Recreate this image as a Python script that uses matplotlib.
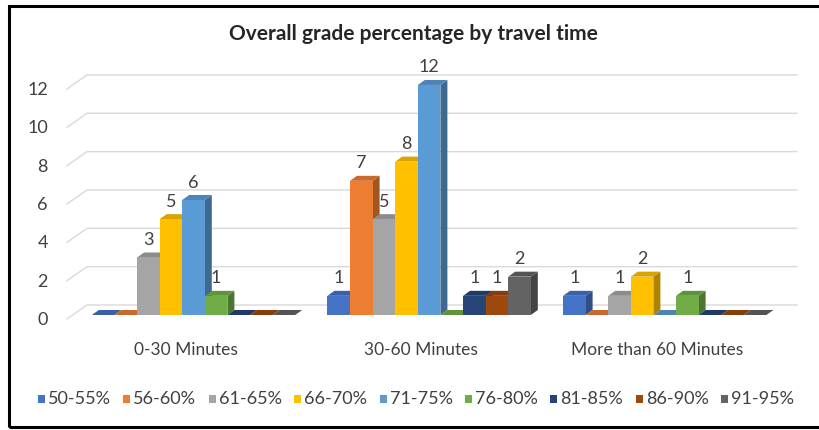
import matplotlib
matplotlib.use('Agg')
import matplotlib.pyplot as plt
from matplotlib.patches import Polygon, Rectangle
from matplotlib.colors import to_rgb
from matplotlib import font_manager
import numpy as np

# data
categories = ['0-30 Minutes', '30-60 Minutes', 'More than 60 Minutes']
grades = ['50-55%', '56-60%', '61-65%', '66-70%', '71-75%',
          '76-80%', '81-85%', '86-90%', '91-95%']
colors = ['#4472C4', '#ED7D31', '#A5A5A5', '#FFC000', '#5B9BD5',
          '#70AD47', '#264478', '#9E480E', '#636363']
counts_0_30 = [0, 0, 3, 5, 6, 1, 0, 0, 0]
counts_30_60 = [1, 7, 5, 8, 12, 0, 1, 1, 2]
counts_60_plus = [1, 0, 1, 2, 0, 1, 0, 0, 0]
y_ticks = [0, 2, 4, 6, 8, 10, 12]
title = 'Overall grade percentage by travel time'

names = {f.name for f in font_manager.fontManager.ttflist}
family = next(f for f in ['Lato', 'Open Sans', 'DejaVu Sans'] if f in names)
plt.rcParams['font.family'] = [family, 'DejaVu Sans']
txt = '#404040'
fs = 13

W, H = 819, 430
fig = plt.figure(figsize=(W / 100, H / 100), dpi=100)
ax = fig.add_axes([0, 0, 1, 1])

# pixel scale of the plot (px per category / per unit)
XS, YS = 235.6, 19.17
x0, y0 = 193.5, 315
ax.set_xlim(-x0 / XS, (W - x0) / XS)
ax.set_ylim((y0 - H) / YS, y0 / YS)
ax.axis('off')


def px(d):
    return d / XS


def py(d):
    return d / YS


# back wall gridlines + y labels
for v in y_ticks:
    ax.plot([px(67 - x0), px(87 - x0), px(797 - x0)],
            [v - py(4), v + py(10), v + py(10)], color='#D9D9D9', lw=1.0, zorder=1)
    ax.text(px(48 - x0), v - py(5), str(v), ha='right', va='center',
            fontsize=fs, color=txt)

# 3d-looking bars
bw = px(22.6)
ddx, ddy = px(7), py(5)
data = [counts_0_30, counts_30_60, counts_60_plus]
for i, vals in enumerate(data):
    for j, v in enumerate(vals):
        c = np.array(to_rgb(colors[j]))
        xl = i + (j - 4.5) * bw
        side = [(xl + bw, 0), (xl + bw + ddx, ddy), (xl + bw + ddx, v + ddy), (xl + bw, v)]
        top = [(xl, v), (xl + bw, v), (xl + bw + ddx, v + ddy), (xl + ddx, v + ddy)]
        ax.add_patch(Polygon(side, closed=True, fc=c * 0.68, lw=0, zorder=2))
        ax.add_patch(Polygon(top, closed=True, fc=c * 0.85, lw=0, zorder=2))
        if v > 0:
            ax.add_patch(Rectangle((xl, 0), bw, v, fc=c, lw=0, zorder=2))
            ax.text(xl + bw / 2, v + 0.65, str(v), ha='center', va='baseline',
                    fontsize=fs, color=txt, zorder=3)
    ax.text(i - 0.033, py(-35), categories[i], ha='center', va='center',
            fontsize=12.5, color=txt)

# title
fig.text(413 / W, 1 - 34 / H, title, ha='center', va='center',
         fontsize=15, fontweight='bold', color='#262626')

# legend
for k, name in enumerate(grades):
    mx = 38 + 85.4 * k
    fig.add_artist(Rectangle((mx / W, 1 - 403 / H), 7 / W, 8 / H,
                             transform=fig.transFigure, fc=colors[k], lw=0))
    fig.text((mx + 10) / W, 1 - 399 / H, name, ha='left', va='center',
             fontsize=fs, color=txt)

# outer frame
fig.add_artist(Rectangle((8.5 / W, 1 - 427 / H), (W + 20) / W, (427 - 6) / H,
                         transform=fig.transFigure, fill=False, ec='black', lw=2.2))

fig.savefig('out.png', dpi=100)
